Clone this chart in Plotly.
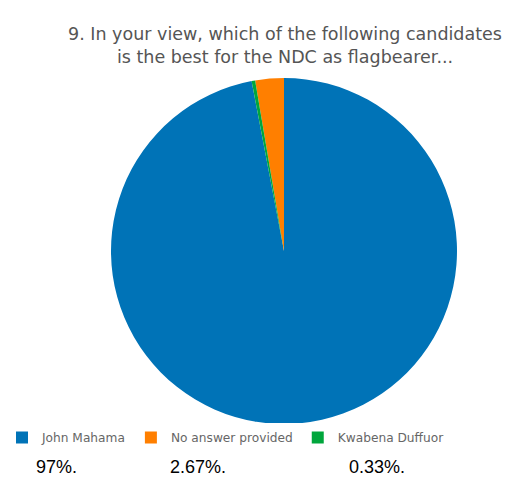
import plotly.graph_objects as go

W, H = 519, 492

labels = ["John Mahama", "No answer provided", "Kwabena Duffuor"]
values = [97, 2.67, 0.33]
colors = ["#0073b7", "#ff7f00", "#00a63c"]
pct_labels = ["97%.", "2.67%.", "0.33%."]
pct_x_px = [34, 168, 347]

cx, cy, r = 284, 251, 173

fig = go.Figure(go.Pie(
    labels=labels,
    values=values,
    sort=False,
    marker=dict(colors=colors, line=dict(width=0)),
    textinfo="none",
    hoverinfo="label+percent",
    domain=dict(x=[(cx - r) / W, (cx + r) / W], y=[1 - (cy + r) / H, 1 - (cy - r) / H]),
))

annotations = []
for t, xp in zip(pct_labels, pct_x_px):
    annotations.append(dict(
        text=t, x=xp / W, y=1 - 467 / H, xref="paper", yref="paper",
        xanchor="left", yanchor="middle", showarrow=False,
        font=dict(family="Liberation Sans, Arial", size=18, color="#000000"),
    ))

fig.update_layout(
    width=W, height=H,
    margin=dict(l=0, r=0, t=0, b=0),
    paper_bgcolor="white",
    plot_bgcolor="white",
    title=dict(
        text="9. In your view, which of the following candidates<br>is the best for the NDC as flagbearer...",
        x=285 / W, xanchor="center", xref="paper",
        y=1 - 40 / H, yanchor="top", yref="container",
        font=dict(family="DejaVu Sans", size=17.5, color="#555555"),
    ),
    showlegend=True,
    legend=dict(
        orientation="h", x=2 / W, xanchor="left", y=1 - 423 / H, yanchor="top",
        font=dict(family="DejaVu Sans", size=12.2, color="#666666"),
        traceorder="normal",
    ),
    annotations=annotations,
)

fig.write_html("out.html")
